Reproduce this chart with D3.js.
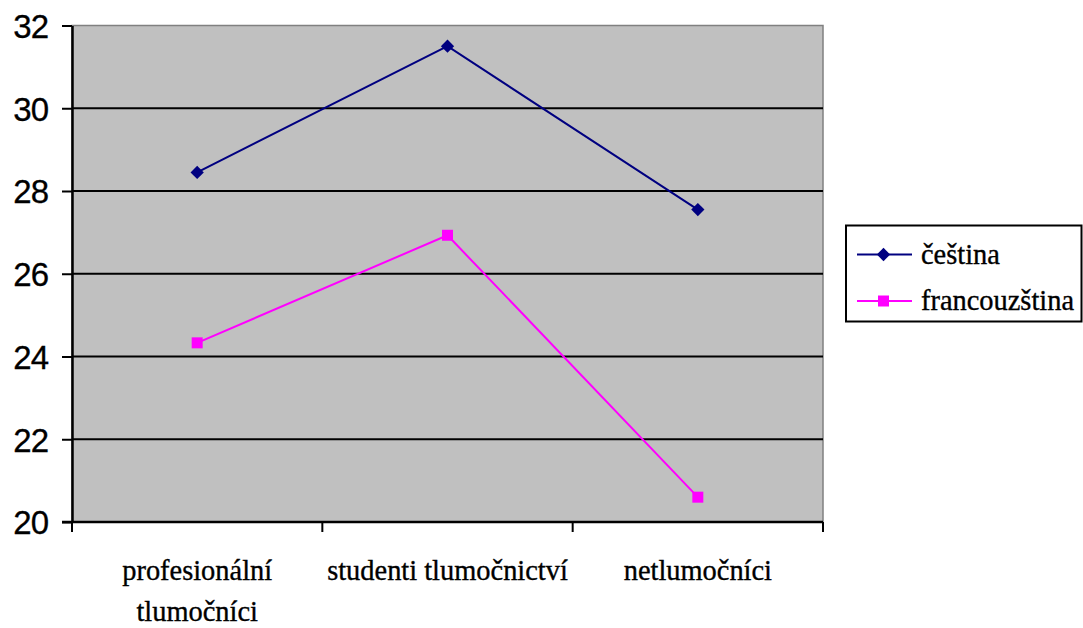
<!DOCTYPE html>
<html>
<head>
<meta charset="utf-8">
<script src="https://cdn.jsdelivr.net/npm/d3@7/dist/d3.min.js"></script>
<style>
  html, body { margin: 0; padding: 0; background: #fff; }
  svg { display: block; }
</style>
</head>
<body>
<svg id="chart" width="1083" height="628"></svg>
<script>
// Categories and series values
const categories = ["profesionální tlumočníci", "studenti tlumočnictví", "netlumočníci"];
const cestina = [28.45, 31.5, 27.55];
const francouzstina = [24.33, 26.93, 20.6];
const seriesNames = ["čeština", "francouzština"];
const yTicks = [20, 22, 24, 26, 28, 30, 32];

const SERIF = "'Liberation Serif', 'DejaVu Serif', serif";
const SANS = "'Liberation Sans', Arial, Helvetica, sans-serif";
const SERIF_SIZE = 29;
const SERIF_SQUEEZE = 0.98;   // slight horizontal compression of the serif labels
const LINE_GAP = 41;          // distance between wrapped label lines, px

const svg = d3.select("#chart");
const plot = { left: 72, right: 823, top: 25.5, bottom: 522 };

const x = d3.scaleBand().domain(categories).range([plot.left, plot.right]);
const y = d3.scaleLinear().domain([20, 32]).range([plot.bottom, plot.top]);
const cx = d => x(d) + x.bandwidth() / 2;

// Plot area
svg.append("rect")
  .attr("x", plot.left).attr("y", plot.top)
  .attr("width", plot.right - plot.left).attr("height", plot.bottom - plot.top)
  .attr("fill", "#c0c0c0").attr("stroke", "#808080").attr("stroke-width", 1.5);

// Horizontal gridlines
svg.append("g").selectAll("line")
  .data(yTicks.filter(t => t > 20 && t < 32))
  .join("line")
  .attr("x1", plot.left).attr("x2", plot.right)
  .attr("y1", d => y(d)).attr("y2", d => y(d))
  .attr("stroke", "#000").attr("stroke-width", 2);

// Y axis
const yAxis = svg.append("g")
  .attr("transform", `translate(${plot.left},0)`)
  .call(d3.axisLeft(y).tickValues(yTicks).tickSize(10).tickSizeOuter(0).tickPadding(14))
  .attr("font-family", SANS)
  .attr("font-size", 33);
yAxis.select(".domain").attr("stroke", "#000").attr("stroke-width", 2.5);
yAxis.selectAll(".tick line").attr("stroke", "#000").attr("stroke-width", 2);
yAxis.selectAll(".tick text")
  .attr("letter-spacing", "-1")
  .attr("fill", "#000")
  .attr("stroke", "#000")
  .attr("stroke-width", 0.3)
  .attr("dy", "0.36em");

// X axis line with ticks at category boundaries
svg.append("line")
  .attr("x1", plot.left - 10).attr("x2", plot.right)
  .attr("y1", plot.bottom).attr("y2", plot.bottom)
  .attr("stroke", "#000").attr("stroke-width", 2.5);
const boundaries = categories.map(c => x(c)).concat([x(categories[categories.length - 1]) + x.bandwidth()]);
svg.append("g").selectAll("line")
  .data(boundaries)
  .join("line")
  .attr("x1", d => d).attr("x2", d => d)
  .attr("y1", plot.bottom).attr("y2", plot.bottom + 10)
  .attr("stroke", "#000").attr("stroke-width", 2);

// Category labels, wrapped to the band width
const catG = svg.append("g")
  .attr("font-family", SERIF)
  .attr("font-size", SERIF_SIZE)
  .attr("fill", "#000")
  .attr("stroke", "#000")
  .attr("stroke-width", 0.35);
categories.forEach(c => {
  const t = catG.append("text")
    .attr("transform", `translate(${cx(c)},580) scale(${SERIF_SQUEEZE},1)`)
    .attr("text-anchor", "middle");
  const words = c.split(" ");
  let line = [];
  let tspan = t.append("tspan").attr("x", 0).attr("dy", 0);
  words.forEach(w => {
    line.push(w);
    tspan.text(line.join(" "));
    if (tspan.node().getComputedTextLength() * SERIF_SQUEEZE > x.bandwidth() - 4 && line.length > 1) {
      line.pop();
      tspan.text(line.join(" "));
      line = [w];
      tspan = t.append("tspan").attr("x", 0).attr("dy", LINE_GAP).text(w);
    }
  });
});

// Series lines and markers (diamond = square rotated 45°)
const line = d3.line().x((d, i) => cx(categories[i])).y(d => y(d));
const series = [
  { name: seriesNames[0], values: cestina, color: "#000080", size: 88, rotate: 45 },
  { name: seriesNames[1], values: francouzstina, color: "#ff00ff", size: 121, rotate: 0 }
];
series.forEach(s => {
  svg.append("path")
    .datum(s.values)
    .attr("d", line)
    .attr("fill", "none")
    .attr("stroke", s.color)
    .attr("stroke-width", 2);
  svg.append("g").selectAll("path")
    .data(s.values)
    .join("path")
    .attr("transform", (d, i) => `translate(${cx(categories[i])},${y(d)}) rotate(${s.rotate})`)
    .attr("d", d3.symbol().type(d3.symbolSquare).size(s.size))
    .attr("fill", s.color);
});

// Legend
const legend = svg.append("g");
legend.append("rect")
  .attr("x", 846).attr("y", 225.5).attr("width", 235.5).attr("height", 96)
  .attr("fill", "#fff").attr("stroke", "#000").attr("stroke-width", 2);
series.forEach((s, i) => {
  const ly = 254.5 + i * 46.5;
  legend.append("line")
    .attr("x1", 857).attr("x2", 912).attr("y1", ly).attr("y2", ly)
    .attr("stroke", s.color).attr("stroke-width", 2);
  legend.append("path")
    .attr("transform", `translate(883.5,${ly}) rotate(${s.rotate})`)
    .attr("d", d3.symbol().type(d3.symbolSquare).size(s.size))
    .attr("fill", s.color);
  legend.append("text")
    .attr("transform", `translate(921,${ly + 9}) scale(${SERIF_SQUEEZE},1)`)
    .attr("font-family", SERIF)
    .attr("font-size", SERIF_SIZE)
    .attr("fill", "#000")
    .attr("stroke", "#000")
    .attr("stroke-width", 0.35)
    .text(s.name);
});
</script>
</body>
</html>
